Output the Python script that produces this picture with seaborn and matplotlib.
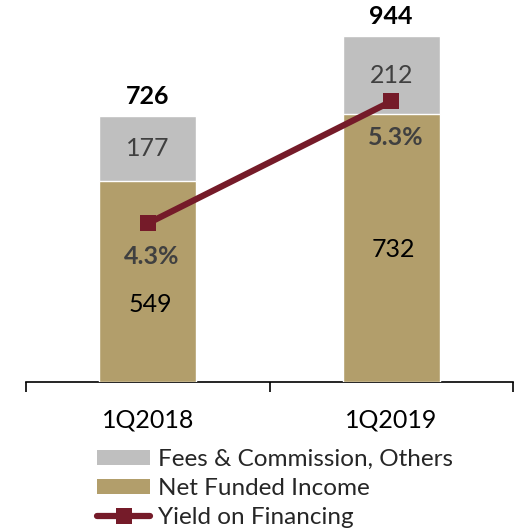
import matplotlib
matplotlib.use("Agg")
import matplotlib.pyplot as plt
from matplotlib.patches import Patch
from matplotlib.lines import Line2D
import seaborn as sns
import pandas as pd

# Revenue breakdown (stacked) and financing yield
quarters = ["1Q2018", "1Q2019"]
net_funded_income = [549, 732]
fees_commission = [177, 212]
totals = [726, 944]
yield_pct = [4.3, 5.3]

GRAY = "#BFBFBF"
TAN = "#B29E6B"
MAROON = "#751B29"
DARK = "#404040"

sns.set_theme(style="white")
plt.rcParams["font.family"] = ["Lato", "DejaVu Sans"]

df = pd.DataFrame({
    "quarter": quarters,
    "nfi": net_funded_income,
    "fees": fees_commission,
    "total": totals,
    "yield": yield_pct,
})

W, H = 526, 531
fig = plt.figure(figsize=(W / 100, H / 100), dpi=100)
ax = fig.add_axes([26 / W, (H - 382) / H, (513 - 26) / W, (382 - 16) / H])

# Stacked bars: full height in gray, lower segment in tan on top
sns.barplot(data=df, x="quarter", y="total", color=GRAY, width=0.4,
            saturation=1, ax=ax, zorder=2)
sns.barplot(data=df, x="quarter", y="nfi", color=TAN, width=0.4,
            saturation=1, ax=ax, zorder=3)

ax.set_xlim(-0.5, 1.5)
ax.set_ylim(0, 1000)
ax.set_xlabel("")
ax.set_ylabel("")
ax.set_yticks([])
for s in ["top", "left", "right"]:
    ax.spines[s].set_visible(False)
ax.spines["bottom"].set_color("black")
ax.spines["bottom"].set_linewidth(1.2)
ax.tick_params(axis="x", which="major", bottom=False, length=0, labelsize=18,
               pad=19, labelcolor="black")
ax.set_xticks([-0.5, 0.5, 1.5], minor=True)
ax.tick_params(axis="x", which="minor", bottom=True, length=7, width=1.2,
               color="black", direction="out")

# Segment and total labels
for i in range(len(quarters)):
    nfi = df["nfi"][i]
    fees = df["fees"][i]
    ax.text(i, nfi + fees / 2, f"{fees}", ha="center", va="center",
            fontsize=18, color=DARK, zorder=5)
    ax.annotate(f"{df['total'][i]}", (i, df["total"][i]), xytext=(0, 6),
                textcoords="offset points", ha="center", va="bottom",
                fontsize=18, fontweight="bold", color="black", zorder=5)
nfi_label_y = [213, 363]
for i in range(len(quarters)):
    ax.text(i + 0.01, nfi_label_y[i], f"{df['nfi'][i]}", ha="center",
            va="center", fontsize=18, color="black", zorder=5)

# Yield line on a secondary axis
ax2 = ax.twinx()
sns.lineplot(x=[0, 1], y=df["yield"], ax=ax2, color=MAROON, linewidth=4.5,
             marker="s", markersize=11, markeredgewidth=0, zorder=6)
ax2.set_ylim(3.0, 6.0)
ax2.set_yticks([])
ax2.set_ylabel("")
for s in ["top", "left", "right", "bottom"]:
    ax2.spines[s].set_visible(False)
label_dy = [-24, -26]
for i, v in enumerate(yield_pct):
    ax2.annotate(f"{v:.1f}%", (i, v), xytext=(3, label_dy[i]),
                 textcoords="offset points", ha="center", va="center",
                 fontsize=18, fontweight="bold", color=DARK)

handles = [
    Patch(facecolor=GRAY, edgecolor="none"),
    Patch(facecolor=TAN, edgecolor="none"),
    Line2D([0], [0], color=MAROON, linewidth=4.5, marker="s", markersize=11,
           markeredgewidth=0, solid_capstyle="round"),
]
labels = ["Fees & Commission, Others", "Net Funded Income", "Yield on Financing"]
fig.legend(handles, labels, loc="upper left",
           bbox_to_anchor=(97 / W, 1 - 449 / H), frameon=False,
           fontsize=17.5, handlelength=2.2, handleheight=0.6,
           handletextpad=0.3, labelspacing=0.33, borderpad=0, borderaxespad=0)

fig.savefig("out.png", dpi=100)
